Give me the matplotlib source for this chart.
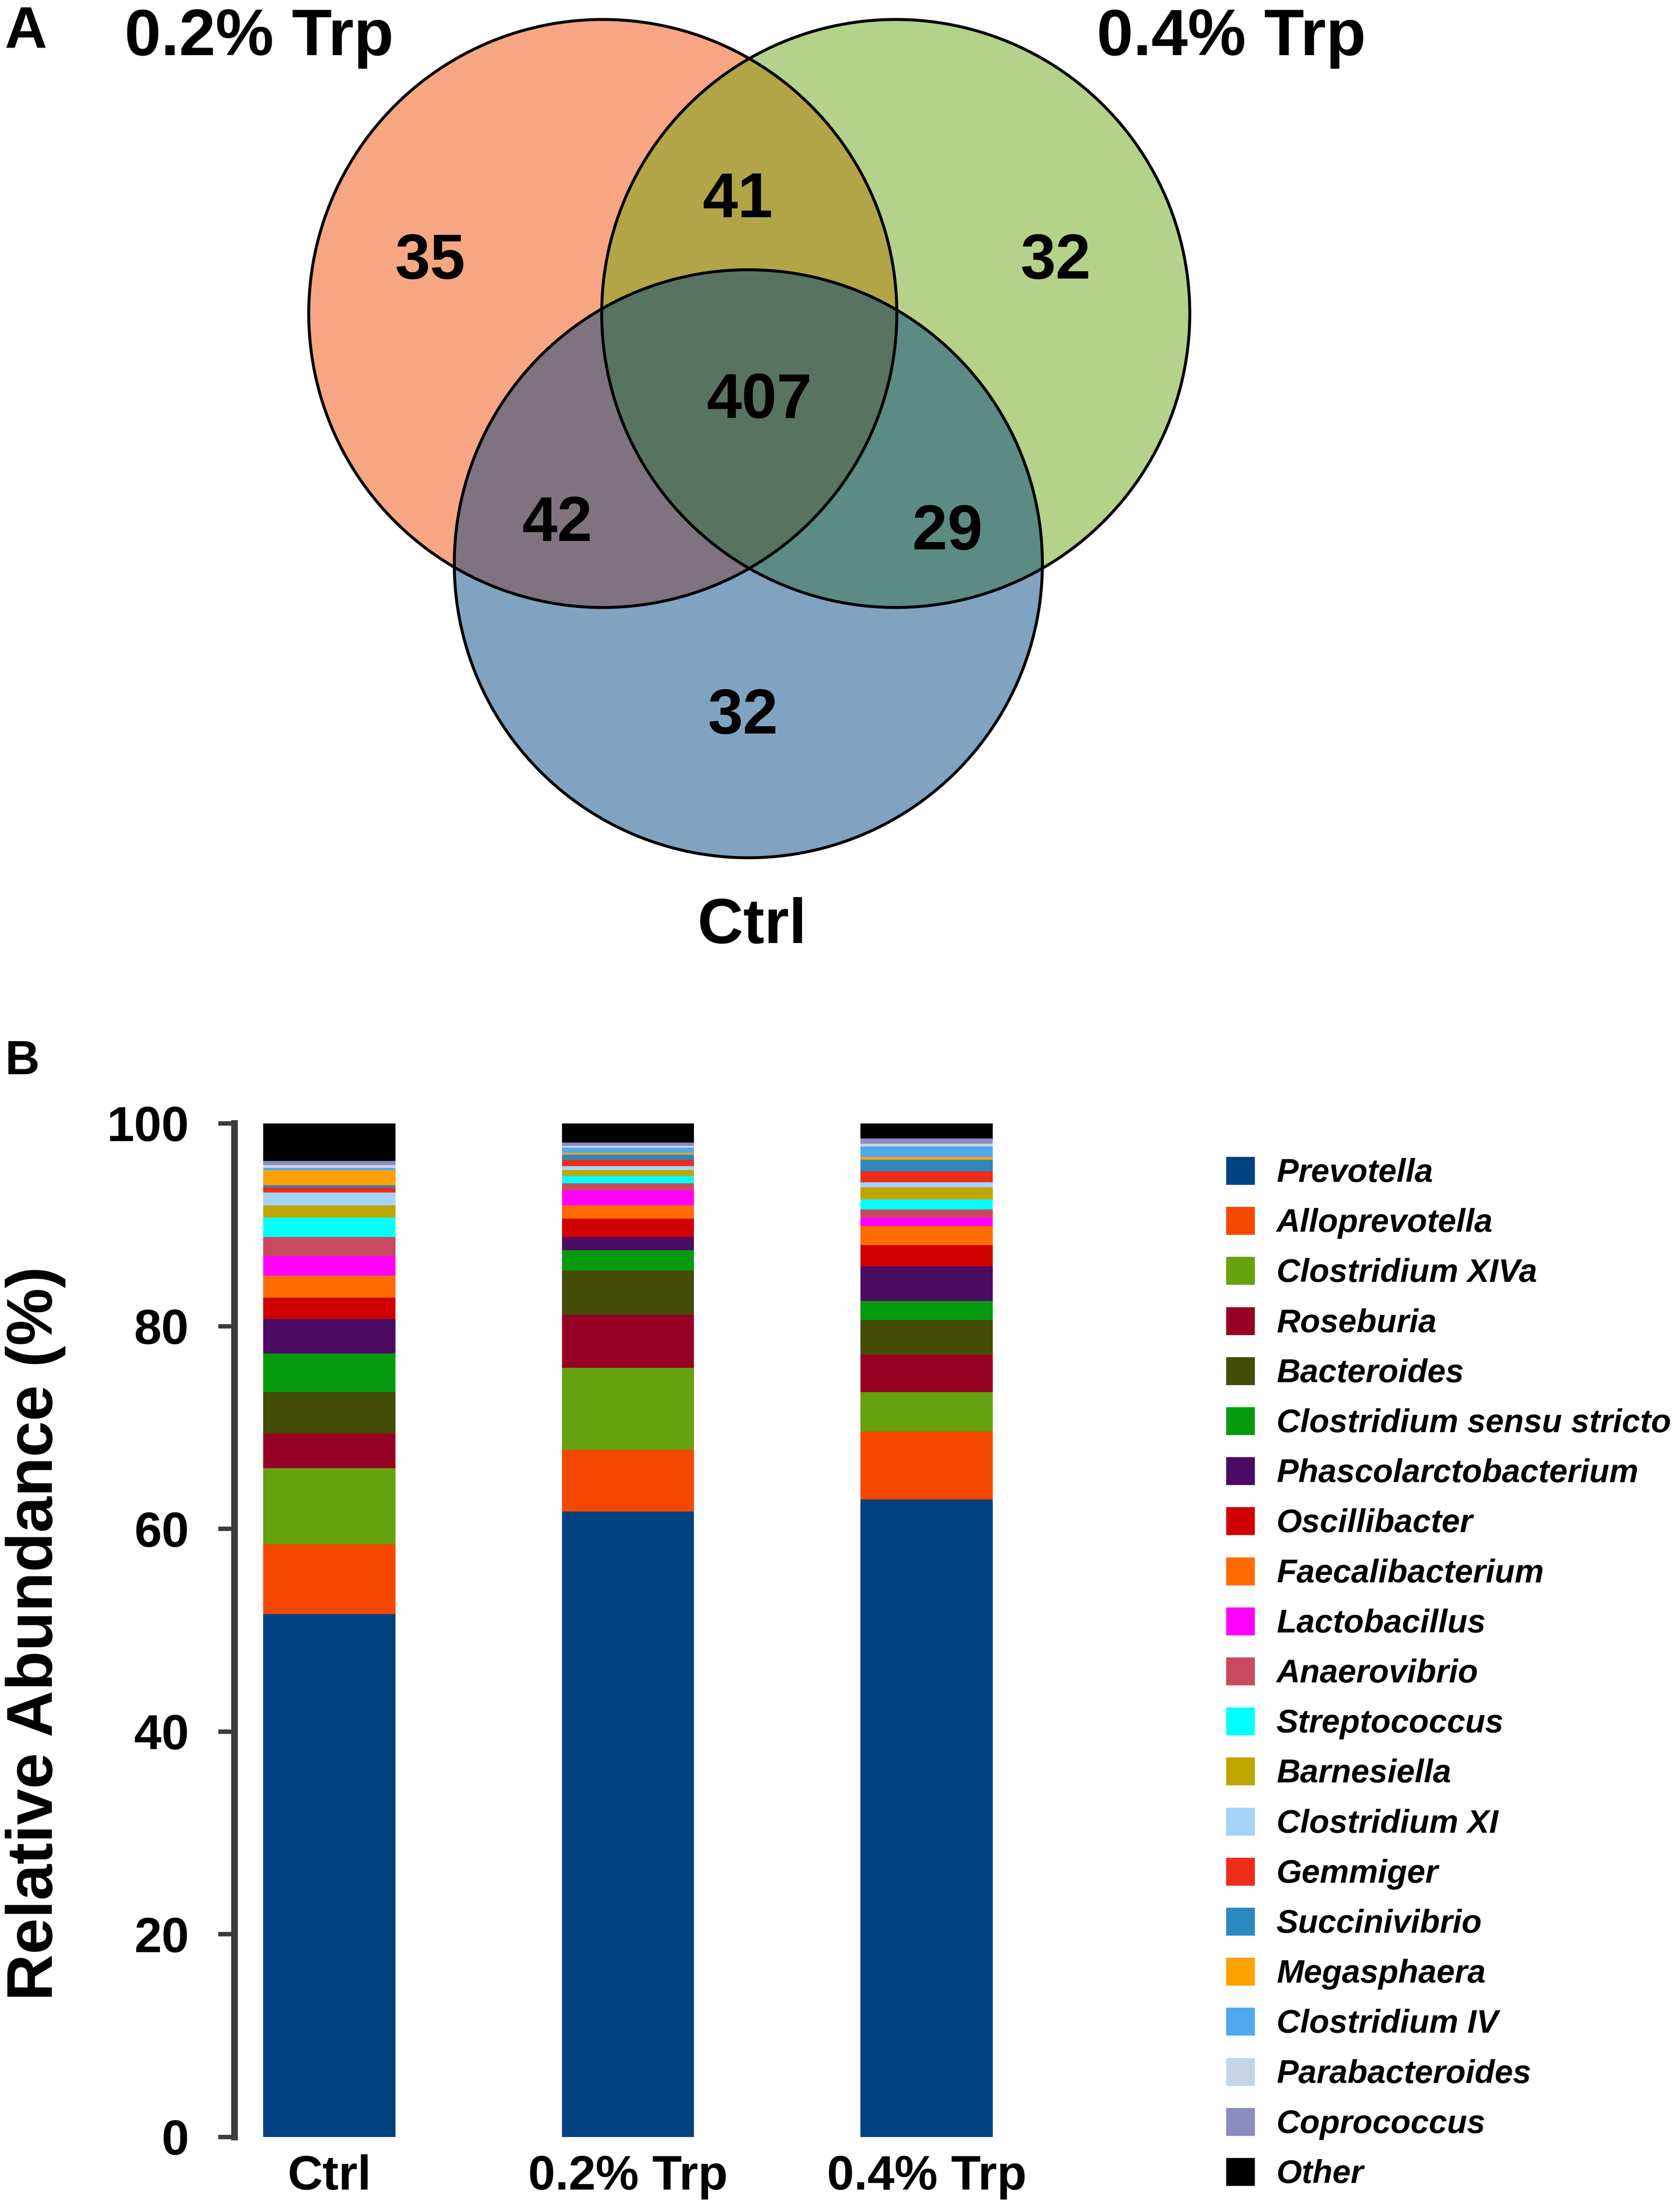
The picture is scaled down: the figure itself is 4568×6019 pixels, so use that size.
import numpy as np
import matplotlib
matplotlib.use('Agg')
import matplotlib.pyplot as plt
from matplotlib.patches import Circle, Rectangle

plt.rcParams['font.family'] = ['Liberation Sans', 'DejaVu Sans']
plt.rcParams['font.weight'] = 'bold'

W, H = 4568, 6019
DPI = 72

# ---- panel A: venn counts
venn_sets = ['0.2% Trp', '0.4% Trp', 'Ctrl']
only_02 = 35
only_04 = 32
only_ctrl = 32
both_02_04 = 41
both_02_ctrl = 42
both_04_ctrl = 29
all_three = 407

# ---- panel B: relative abundance (%) per group, bottom to top
groups = ['Ctrl', '0.2% Trp', '0.4% Trp']
genera = ['Prevotella', 'Alloprevotella', 'Clostridium XIVa', 'Roseburia', 'Bacteroides',
          'Clostridium sensu stricto', 'Phascolarctobacterium', 'Oscillibacter',
          'Faecalibacterium', 'Lactobacillus', 'Anaerovibrio', 'Streptococcus',
          'Barnesiella', 'Clostridium XI', 'Gemmiger', 'Succinivibrio', 'Megasphaera',
          'Clostridium IV', 'Parabacteroides', 'Coprococcus', 'Other']
ctrl = [51.6, 6.9, 7.5, 3.4, 4.1, 3.8, 3.4, 2.1, 2.2, 1.9, 1.9, 1.9, 1.2, 1.3, 0.5, 0.2,
        1.5, 0.2, 0.3, 0.4, 3.7]
trp02 = [61.7, 6.1, 8.1, 5.2, 4.4, 2.0, 1.3, 1.8, 1.3, 1.5, 0.7, 0.7, 0.6, 0.4, 0.6, 0.5,
         0.2, 0.5, 0.2, 0.3, 1.9]
trp04 = [62.9, 6.7, 3.9, 3.7, 3.4, 1.9, 3.4, 2.1, 1.9, 0.8, 0.8, 1.0, 1.2, 0.5, 1.1, 1.1,
         0.3, 1.0, 0.3, 0.5, 1.5]

genus_colors = ['#00427f', '#f44800', '#66a10f', '#950024', '#444c06', '#069a0e', '#4c0b62',
                '#d00000', '#ff6b00', '#ff00ff', '#c94a60', '#00ffff', '#bfa500', '#a5d3f5',
                '#ee2c1a', '#2b87c0', '#ffa200', '#50a8ee', '#c8d5e2', '#8c8cc0', '#000000']

fig = plt.figure(figsize=(W / DPI, H / DPI), dpi=DPI)

# full-figure canvas in pixel coordinates (y down) for the venn and the legend
canvas = fig.add_axes([0, 0, 1, 1])
canvas.set_axis_off()

circles = [(1640, 853, 800), (2437, 853, 800), (2036, 1534, 800)]
region_colors = {1: '#f7a684', 2: '#b4d28a', 4: '#80a3c2', 3: '#b2a548', 5: '#807380',
                 6: '#5c8b83', 7: '#587362'}

xs = np.arange(780, 3300, 2) + 1.0
ys = np.arange(0, 2400, 2) + 1.0
gx, gy = np.meshgrid(xs, ys)
code = np.zeros(gx.shape, dtype=int)
for k, (cx, cy, r) in enumerate(circles):
    code += ((gx - cx) ** 2 + (gy - cy) ** 2 <= r ** 2).astype(int) << k
img = np.ones(gx.shape + (4,))
img[..., 3] = 0
for c, col in region_colors.items():
    img[code == c] = matplotlib.colors.to_rgba(col)
canvas.imshow(img, extent=(780, 3300, 2400, 0), origin='upper', interpolation='nearest')
for cx, cy, r in circles:
    canvas.add_patch(Circle((cx, cy), r, fill=False, ec='black', lw=8))

venn_texts = [(only_02, 1170, 758), (both_02_04, 2007, 591), (only_04, 2872, 758),
              (all_three, 2066, 1137), (both_02_ctrl, 1516, 1472), (both_04_ctrl, 2578, 1495),
              (only_ctrl, 2021, 1996)]
for val, x, y in venn_texts:
    canvas.text(x, y, str(val), ha='center', va='baseline', fontsize=172, fontweight='bold')

canvas.text(705, 150, venn_sets[0], ha='center', va='baseline', fontsize=178)
canvas.text(3350, 150, venn_sets[1], ha='center', va='baseline', fontsize=178)
canvas.text(2046, 2566, venn_sets[2], ha='center', va='baseline', fontsize=172)
canvas.text(12, 130, 'A', ha='left', va='baseline', fontsize=160)
canvas.text(13, 2923, 'B', ha='left', va='baseline', fontsize=130)

# legend, drawn by hand to keep the row pitch of the original
for i, (name, col) in enumerate(zip(genera, genus_colors)):
    yc = 3186 + i * 136.2
    canvas.add_patch(Rectangle((3336, yc - 38), 78, 76, fc=col, ec='none'))
    canvas.text(3473, yc + 30, name, ha='left', va='baseline', fontsize=89,
                fontstyle='italic', fontweight='bold')

canvas.set_xlim(0, W)
canvas.set_ylim(H, 0)
canvas.set_aspect('auto')

# ---- stacked bars
ax = fig.add_axes([638 / W, (H - 5815) / H, 2141 / W, (5815 - 3057) / H])
ax.patch.set_alpha(0)
x = np.arange(len(groups))
data = np.array([ctrl, trp02, trp04])
bottom = np.zeros(len(groups))
for j, name in enumerate(genera):
    ax.bar(x, data[:, j], bottom=bottom, width=0.442, color=genus_colors[j], linewidth=0,
           label=name)
    bottom += data[:, j]

ax.set_xlim(-0.3175, 2.3175)
ax.set_ylim(0, 100)
ax.set_yticks([0, 20, 40, 60, 80, 100])
ax.set_xticks(x)
ax.set_xticklabels(groups)
for s in ['top', 'right', 'bottom']:
    ax.spines[s].set_visible(False)
ax.spines['left'].set_linewidth(18)
ax.spines['left'].set_color('#3c3c3c')
ax.tick_params(axis='y', length=44, width=12, pad=80, labelsize=134, color='#3c3c3c')
ax.tick_params(axis='x', length=0, pad=47, labelsize=132)

fig.text(97 / W, 1 - 4445 / H, 'Relative Abundance (%)', rotation=90, ha='center', va='center',
         fontsize=176, fontweight='bold')

fig.savefig('out.png', dpi=DPI)
